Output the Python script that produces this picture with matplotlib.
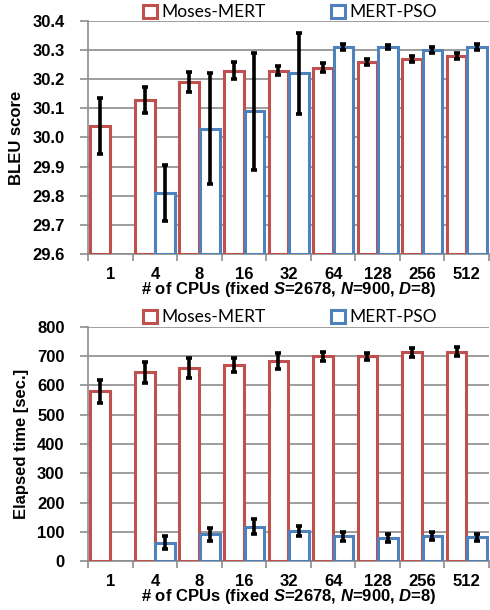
import matplotlib
matplotlib.use("Agg")
import matplotlib.pyplot as plt
import numpy as np

# data
cpus = ["1", "4", "8", "16", "32", "64", "128", "256", "512"]

bleu_moses = [30.04, 30.13, 30.19, 30.23, 30.23, 30.24, 30.26, 30.27, 30.28]
bleu_moses_err = [0.095, 0.045, 0.035, 0.03, 0.015, 0.015, 0.01, 0.01, 0.01]
bleu_pso = [np.nan, 29.81, 30.03, 30.09, 30.22, 30.31, 30.31, 30.30, 30.31]
bleu_pso_err = [np.nan, 0.095, 0.19, 0.2, 0.14, 0.01, 0.007, 0.01, 0.01]

time_moses = [580, 645, 660, 670, 683, 700, 700, 713, 716]
time_moses_err = [40, 35, 35, 25, 27, 15, 12, 15, 15]
time_pso = [np.nan, 63, 91, 117, 102, 85, 78, 85, 82]
time_pso_err = [np.nan, 22, 22, 25, 18, 15, 13, 13, 12]

RED = "#C0504D"
BLUE = "#4F81BD"
GRID = "#8c8c8c"

plt.rcParams["font.family"] = "Liberation Sans"
plt.rcParams["mathtext.fontset"] = "custom"
plt.rcParams["mathtext.bf"] = "Liberation Sans:bold"
plt.rcParams["mathtext.bfit"] = "Liberation Sans:bold:italic"
plt.rcParams["mathtext.rm"] = "Liberation Sans:bold"

xlabel = r"# of CPUs (fixed $\mathbfit{S}$=2678, $\mathbfit{N}$=900, $\mathbfit{D}$=8)"

fig = plt.figure(figsize=(4.9, 6.1), dpi=100)
ax1 = fig.add_axes([0.180, 0.5836, 0.818, 0.382])
ax2 = fig.add_axes([0.180, 0.0803, 0.818, 0.3837])


def draw(ax, moses, moses_err, pso, pso_err, ylim, yticks, yfmt, ylabel, leg_y):
    idx = np.arange(len(cpus))
    pso = np.array(pso, dtype=float)
    pso_err = np.array(pso_err, dtype=float)
    ok = ~np.isnan(pso)
    b1 = ax.bar(idx + 0.27, moses, 0.44, bottom=0 if ylim[0] == 0 else ylim[0],
                facecolor="white", edgecolor=RED, linewidth=2.2, zorder=3,
                label="Moses-MERT")
    if ylim[0] != 0:
        for r, v in zip(b1, moses):
            r.set_height(v - ylim[0])
    b2 = ax.bar(idx[ok] + 0.73, pso[ok] - ylim[0], 0.44, bottom=ylim[0],
                facecolor="white", edgecolor=BLUE, linewidth=2.2, zorder=3,
                label="MERT-PSO")
    ax.errorbar(idx + 0.27, moses, yerr=moses_err, fmt="none", ecolor="black",
                elinewidth=2.6, capsize=2.5, capthick=2.6, zorder=4)
    ax.errorbar(idx[ok] + 0.73, pso[ok], yerr=pso_err[ok], fmt="none",
                ecolor="black", elinewidth=2.6, capsize=2.5, capthick=2.6,
                zorder=4)

    ax.set_xlim(0, len(cpus))
    ax.set_ylim(*ylim)
    ax.set_yticks(yticks)
    ax.set_yticklabels([yfmt % v for v in yticks], fontweight="bold", fontsize=12)
    ax.yaxis.grid(True, color=GRID, linewidth=1.2, zorder=0)
    ax.set_axisbelow(True)

    ax.set_xticks(np.arange(len(cpus) + 1))
    ax.set_xticklabels([])
    ax.set_xticks(idx + 0.5, minor=True)
    ax.set_xticklabels(cpus, minor=True, fontweight="bold", fontsize=12)
    ax.tick_params(axis="x", which="major", length=5, color=GRID, width=1.2)
    ax.tick_params(axis="x", which="minor", length=0, pad=9)
    ax.tick_params(axis="y", length=6, color=GRID, width=1.2, pad=11)

    for s in ["top", "right"]:
        ax.spines[s].set_visible(False)
    for s in ["left", "bottom"]:
        ax.spines[s].set_color(GRID)
        ax.spines[s].set_linewidth(1.2)

    ax.set_xlabel(xlabel, fontweight="bold", fontsize=12, labelpad=-1)
    ax.set_ylabel(ylabel, fontweight="bold", fontsize=12, labelpad=6)

    fig.legend(handles=[b1, b2], loc="center", bbox_to_anchor=(0.592, leg_y),
               ncol=2, frameon=False, handlelength=0.8, handleheight=0.8,
               handletextpad=0.25, columnspacing=3.8,
               prop={"family": "Lato", "size": 12.5})


draw(ax1, bleu_moses, bleu_moses_err, bleu_pso, bleu_pso_err,
     (29.6, 30.4), np.round(np.arange(29.6, 30.41, 0.1), 1), "%.1f",
     "BLEU score", 0.980)
draw(ax2, time_moses, time_moses_err, time_pso, time_pso_err,
     (0, 800), np.arange(0, 801, 100), "%d", "Elapsed time [sec.]", 0.480)

fig.savefig("out.png", dpi=100, facecolor="white")
